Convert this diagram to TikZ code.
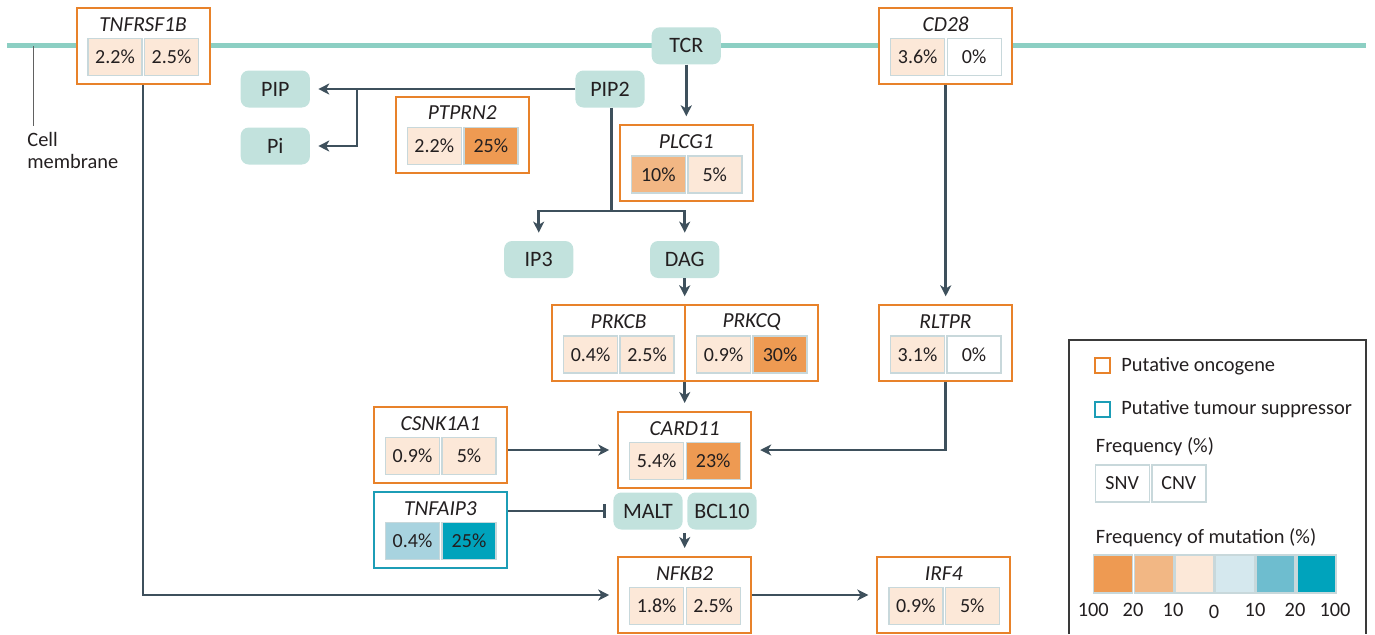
\documentclass[tikz,border=0pt]{standalone}
\usepackage{fontspec}
\setmainfont{Carlito}
\usetikzlibrary{arrows.meta,calc}
\definecolor{txt}{HTML}{231F20}
\definecolor{membcol}{HTML}{8CCFC3}
\definecolor{molcol}{HTML}{C2E2DD}
\definecolor{conncol}{HTML}{3E505C}
\definecolor{onc}{HTML}{E8822A}
\definecolor{tsg}{HTML}{1C9DB6}
\definecolor{cellb}{HTML}{C8D8DB}
\definecolor{cA}{HTML}{EE9A52}
\definecolor{cB}{HTML}{F2B784}
\definecolor{cC}{HTML}{FCE8D8}
\definecolor{cD}{HTML}{D5E8EE}
\definecolor{cE}{HTML}{6EBDCF}
\definecolor{cF}{HTML}{00A3BC}
\definecolor{cG}{HTML}{A8D3DF}
\definecolor{legcol}{HTML}{3A3A3A}
\tikzset{
  every node/.style={text=txt, font=\fontsize{10.2}{11.2}\selectfont},
  gframe/.style={draw=onc, line width=1pt, fill=white, minimum width=66.5pt, minimum height=38pt, inner sep=0pt},
  tframe/.style={gframe, draw=tsg},
  gtitle/.style={font=\fontsize{10.7}{12}\selectfont\itshape, inner sep=0pt},
  cellbox/.style={draw=cellb, line width=0.7pt, minimum width=27pt, minimum height=18.5pt, inner sep=0pt, font=\fontsize{10}{12}\selectfont},
  legbox/.style={draw=cellb, line width=0.7pt, minimum width=19.5pt, minimum height=19pt, inner sep=0pt},
  mol/.style={fill=molcol, rounded corners=4pt, minimum width=34.6pt, minimum height=18.5pt, inner sep=0pt, font=\fontsize{11}{13}\selectfont},
  conn/.style={draw=conncol, line width=1.3pt},
  arr/.style={conn, -{Stealth[length=5.5pt,width=5.5pt,inset=1.6pt]}, shorten >=4pt},
  teeline/.style={conn, -{Bar[width=7pt,line width=1.4pt]}, shorten >=3.5pt},
  membrane/.style={draw=membcol, line width=2.5pt},
  leader/.style={draw=legcol!80, line width=0.5pt},
  legframe/.style={draw=legcol, line width=0.6pt},
  legsq/.style={line width=1pt, minimum size=7.5pt, inner sep=0pt, fill=white},
  legtext/.style={anchor=west, inner sep=0pt},
  scalelab/.style={inner sep=0pt}
}
\newcommand{\genebox}[9]{%
  \node[#9] (#1) at (#2,#3) {};
  \node[gtitle] (#1-t) at (#2,#3-21.7) {#4};
  \node[cellbox, fill=#6] (#1-a) at (#2-28,#3+11) {#5};
  \node[cellbox, fill=#8] (#1-b) at (#2+28.5,#3+11) {#7};
}
\begin{document}
\begin{tikzpicture}[x=0.5pt,y=-0.5pt]
\useasboundingbox (0,0) rectangle (1375,634);
% membrane
\coordinate (mL) at (7,45.8);
\coordinate (mR) at (1366,45.8);
\draw[membrane] (mL) -- (mR);
\coordinate (cmA) at (33.5,46);
\coordinate (cmB) at (33.5,126);
\draw[leader] (cmA) -- (cmB);
\node[align=left, anchor=north west, inner sep=0pt] (cmlabel) at (27,132) {Cell\\membrane};

% gene boxes
\genebox{TNFRSF1B}{143}{46}{TNFRSF1B}{2.2\%}{cC}{2.5\%}{cC}{gframe}
\genebox{CD28}{945.7}{46}{CD28}{3.6\%}{cC}{0\%}{white}{gframe}
\genebox{PTPRN2}{462.3}{134.7}{PTPRN2}{2.2\%}{cC}{25\%}{cA}{gframe}
\genebox{PLCG1}{686.3}{163.3}{PLCG1}{10\%}{cB}{5\%}{cC}{gframe}
\genebox{PRKCB}{618.6}{343.3}{PRKCB}{0.4\%}{cC}{2.5\%}{cC}{gframe}
\genebox{PRKCQ}{751.6}{343.3}{PRKCQ}{0.9\%}{cC}{30\%}{cA}{gframe}
\genebox{RLTPR}{945.5}{343.3}{RLTPR}{3.1\%}{cC}{0\%}{white}{gframe}
\genebox{CSNK1A1}{440.5}{445}{CSNK1A1}{0.9\%}{cC}{5\%}{cC}{gframe}
\genebox{CARD11}{684.7}{450}{CARD11}{5.4\%}{cC}{23\%}{cA}{gframe}
\genebox{TNFAIP3}{440.5}{530}{TNFAIP3}{0.4\%}{cG}{25\%}{cF}{tframe}
\genebox{NFKB2}{684.7}{595}{NFKB2}{1.8\%}{cC}{2.5\%}{cC}{gframe}
\genebox{IRF4}{943.8}{595}{IRF4}{0.9\%}{cC}{5\%}{cC}{gframe}

% small molecules
\node[mol] (TCR) at (686.3,45.8) {TCR};
\node[mol] (PIP2) at (610,89) {PIP2};
\node[mol] (PIP) at (275.3,89) {PIP};
\node[mol] (Pi) at (275.3,146) {Pi};
\node[mol] (IP3) at (538.7,259.5) {IP3};
\node[mol] (DAG) at (684.7,259.5) {DAG};
\node[mol] (MALT) at (648,511) {MALT};
\node[mol] (BCL10) at (722,511) {BCL10};

% connectors
\draw[arr] (TCR.south) -- (TCR.south |- PLCG1.north);
\draw[arr] (PIP2.west) -- (PIP.east);
\coordinate (br) at (357,89);
\draw[arr] (br) |- (Pi.east);
\coordinate (fork) at (611.7,211);
\draw[conn] (fork |- PIP2.south) -- (fork);
\draw[arr] (fork) -| (IP3.north);
\draw[arr] (fork) -| (DAG.north);
\draw[arr] (DAG.south) -- (DAG.south |- PRKCB.north);
\draw[arr] (CARD11.north |- PRKCB.south) -- (CARD11.north);
\draw[arr] (CSNK1A1.east |- CARD11.west) -- (CARD11.west);
\draw[arr] (RLTPR.south) |- (CARD11.east);
\draw[arr] (CD28.south) -- (CD28.south |- RLTPR.north);
\draw[teeline] (TNFAIP3.east |- MALT.west) -- (MALT.west);
\draw[arr, shorten <=1.5pt] (NFKB2.north |- MALT.south) -- (NFKB2.north);
\draw[arr] (TNFRSF1B.south) |- (NFKB2.west);
\draw[arr] (NFKB2.east) -- (IRF4.west);

% legend
\coordinate (lgA) at (1069,634);
\coordinate (lgB) at (1069,340);
\coordinate (lgC) at (1366,340);
\coordinate (lgD) at (1366,634);
\draw[legframe] (lgA) -- (lgB) -- (lgC) -- (lgD);
\node[legsq, draw=onc] (sqO) at (1102.7,365) {};
\node[legtext] (tO) at (1121,366) {Putative oncogene};
\node[legsq, draw=tsg] (sqT) at (1102.7,409) {};
\node[legtext] (tT) at (1121,409) {Putative tumour suppressor};
\node[legtext] (tF) at (1095.5,447) {Frequency (\%)};
\node[cellbox, fill=white] (snv) at (1122.2,483.3) {SNV};
\node[cellbox, fill=white] (cnv) at (1178.8,483.3) {CNV};
\node[legtext] (tM) at (1095.5,538) {Frequency of mutation (\%)};
\node[legbox, fill=cA] (s1) at (1112.8,574) {};
\node[legbox, fill=cB] (s2) at (1153.7,574) {};
\node[legbox, fill=cC] (s3) at (1194.3,574) {};
\node[legbox, fill=cD] (s4) at (1235,574) {};
\node[legbox, fill=cE] (s5) at (1275.5,574) {};
\node[legbox, fill=cF] (s6) at (1316.3,574) {};
\node[scalelab] (l1) at (1093.3,610) {100};
\node[scalelab] (l2) at (1133,610) {20};
\node[scalelab] (l3) at (1173,610) {10};
\node[scalelab] (l4) at (1214,612) {0};
\node[scalelab] (l5) at (1255,610) {10};
\node[scalelab] (l6) at (1295,610) {20};
\node[scalelab] (l7) at (1335,610) {100};
\end{tikzpicture}
\end{document}
